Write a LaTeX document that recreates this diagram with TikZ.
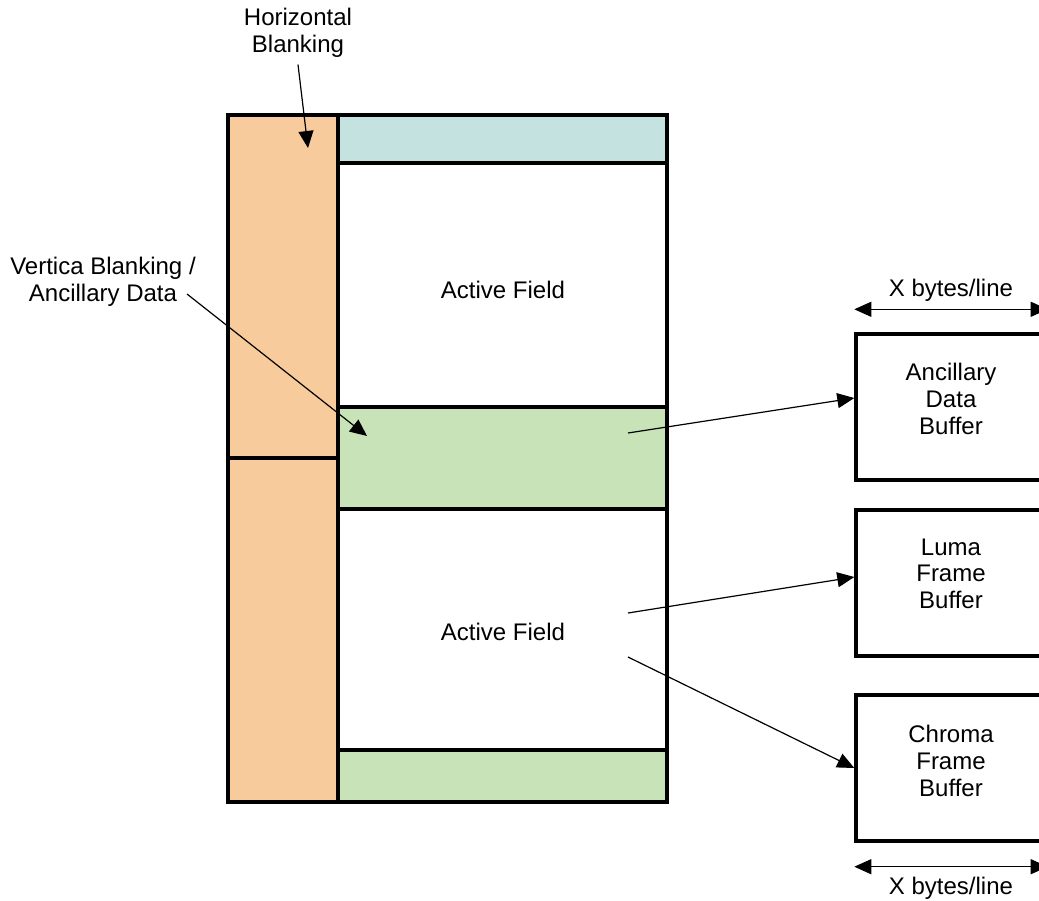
\documentclass[tikz,border=0pt]{standalone}
\usepackage{fontspec}
\setmainfont{Liberation Sans}
\usepackage{xcolor}
\usepackage{tikz}
\usetikzlibrary{positioning, arrows.meta, calc}

\definecolor{hblank}{HTML}{F7CB9B}
\definecolor{vblank}{HTML}{C3E2E0}
\definecolor{ancdata}{HTML}{C9E3B9}

\tikzset{
    region/.style={draw=black, line width=2pt},
    bufbox/.style={draw=black, line width=1.7pt, minimum width=95pt, minimum height=73pt, align=center},
    conn/.style={-{Triangle[length=8.5pt,width=7.5pt]}, line width=0.6pt},
    span/.style={{Triangle[length=8.5pt,width=7.5pt]}-{Triangle[length=8.5pt,width=7.5pt]}, line width=0.6pt},
    every node/.style={align=center, font=\fontsize{12}{13.3}\selectfont}
}

\begin{document}
\begin{tikzpicture}[x=0.5pt, y=-0.5pt]
    \useasboundingbox (0,0) rectangle (1039,900);

    % ---------------- FIELD LAYOUT ----------------
    \fill[white] (0,0) rectangle (1039,900);
    \draw[region, fill=hblank] (228,115) rectangle (338,458);
    \draw[region, fill=hblank] (228,458) rectangle (338,802);
    \draw[region, fill=vblank] (338,115) rectangle (667,163);
    \draw[region, fill=white] (338,163) rectangle (667,407);
    \draw[region, fill=ancdata] (338,407) rectangle (667,509);
    \draw[region, fill=white] (338,509) rectangle (667,750);
    \draw[region, fill=ancdata] (338,750) rectangle (667,802);

    \node (act1) at (503,290) {Active Field};
    \node (act2) at (503,632) {Active Field};

    % Labels
    \node (hbl) at (298,33) {Horizontal\\Blanking};
    \node (vbl) at (103,282) {Vertica Blanking /\\Ancillary Data};

    % ---------------- BUFFERS ----------------
    \node[bufbox] (anc) at (951,407) {Ancillary\\Data\\Buffer\vphantom{g}\\[-5pt]\mbox{}};
    \node[bufbox] (luma) at (951,583) {Luma\\Frame\\Buffer\\[-4pt]\mbox{}};
    \node[bufbox] (chroma) at (951,768) {Chroma\\Frame\\Buffer\\[-6pt]\mbox{}};

    \node (xtop) at (951,290) {X bytes/line};
    \node (xbot) at (951,888) {X bytes/line};
    \draw[span] ([yshift=11.5pt]anc.north west) -- ([yshift=11.5pt]anc.north east);
    \draw[span] ([yshift=-12pt]chroma.south west) -- ([yshift=-12pt]chroma.south east);

    % Connectors
    \coordinate (hbtip) at (308,148);
    \coordinate (vbsrc) at (187,294);
    \coordinate (vbtip) at (367,436);
    \coordinate (ancsrc) at (628,433);
    \coordinate (lumasrc) at (628,613);
    \coordinate (chromasrc) at (628,657);

    \draw[conn] (hbl.south) -- (hbtip);
    \draw[conn] (vbsrc) -- (vbtip);
    \draw[conn] (ancsrc) -- ([yshift=4.5pt]anc.west);
    \draw[conn] (lumasrc) -- ([yshift=3pt]luma.west);
    \draw[conn] (chromasrc) -- (chroma.west);
\end{tikzpicture}
\end{document}
